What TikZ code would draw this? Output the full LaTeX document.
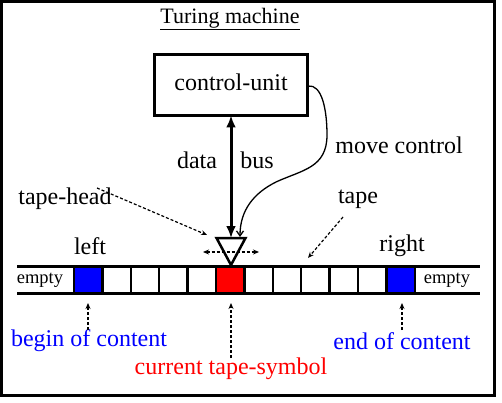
\documentclass[tikz,border=0pt]{standalone}
\usepackage{fontspec}
\setmainfont{Liberation Serif}
\usetikzlibrary{arrows.meta}
\definecolor{pblue}{RGB}{0,0,255}
\definecolor{pred}{RGB}{255,0,0}
\begin{document}
\begin{tikzpicture}[x=1pt,y=-1pt,
  lbl/.style={font=\fontsize{24}{28}\selectfont, inner sep=0pt},
  small/.style={font=\fontsize{18.5}{22}\selectfont, inner sep=0pt},
  cell/.style={draw, line width=2.5pt, minimum width=28.4pt, minimum height=26pt, inner sep=0pt, outer sep=0pt, anchor=west},
  dasharrow/.style={line width=1.2pt, dash pattern=on 3pt off 2pt, -{Stealth[length=6pt,width=5pt]}},
]
\useasboundingbox (0,0) rectangle (502,403);
\draw[line width=3pt] (1.5,1.5) rectangle (494.5,395.5);
\node[font=\fontsize{22}{26}\selectfont, inner sep=0pt] (title) at (230,19) {\underline{Turing machine}};
\node[draw, line width=3pt, minimum width=153pt, minimum height=61pt, inner sep=0pt, outer sep=0pt, lbl] (cu) at (231,85) {\raisebox{5pt}{control-unit}};
% tape
\coordinate (tl1) at (17,266.5); \coordinate (tr1) at (480,266.5);
\coordinate (tl2) at (17,293.5); \coordinate (tr2) at (480,293.5);
\draw[line width=3pt] (tl1) -- (tr1);
\draw[line width=3pt] (tl2) -- (tr2);
\foreach \i in {0,...,11} {
  \node[cell] (c\i) at ({74+28.4*\i},280) {};
}
\node[cell, fill=pblue] at (c0.west) {};
\node[cell, fill=pblue] at (c11.west) {};
\node[cell, fill=pred] at (c5.west) {};
\node[small] (e1) at (40,280) {empty};
\node[small] (e2) at (447,280) {empty};
% head
\draw[line width=2.5pt, fill=white, line join=miter] (216.5,238) -- (245.5,238) -- (231,265) -- cycle;
\coordinate (headtop) at (231,238);
\coordinate (headtr) at (240,237);
\coordinate (hl) at (203,252);
\coordinate (hr) at (259,252);
\draw[line width=1.2pt, dash pattern=on 3pt off 2pt, {Stealth[length=6pt,width=5pt]}-{Stealth[length=6pt,width=5pt]}] (hl) -- (hr);
% data bus
\draw[line width=3pt, {Latex[length=12pt,width=10pt]}-{Latex[length=12pt,width=10pt]}] (cu.south) -- (headtop);
\node[lbl] (data) at (197,160) {data};
\node[lbl] (bus) at (257,160) {bus};
% move control
\coordinate (mc0) at (308,86);
\draw[line width=1.3pt, -{Straight Barb[length=5pt,width=7pt]}] (mc0) .. controls (322,84) and (327,110) .. (327,135)
  .. controls (327,168) and (302,170) .. (276,182)
  .. controls (254,193) and (240,210) .. (headtr);
\node[lbl] (mc) at (399,145) {move control};
% tape-head label
\node[lbl] (th) at (65,199) {tape-head};
\coordinate (tha) at (97,188);
\draw[dasharrow] (tha) -- (207,235);
% tape label
\node[lbl] (tp) at (358,199) {tape};
\coordinate (tpa) at (343,217);
\draw[dasharrow] (tpa) -- (308,258);
% left/right
\node[lbl] (left) at (90,246) {left};
\node[lbl] (right) at (402,246) {right};
% bottom labels
\node[lbl, text=pblue] (boc) at (89,341) {begin of content};
\node[lbl, text=pblue] (eoc) at (402,341) {end of content};
\node[lbl, text=pred] (cts) at (231,369) {current tape-symbol};
\draw[dasharrow] (88,330) -- (88,303);
\draw[dasharrow] (231,358) -- (231,303);
\draw[dasharrow] (402,330) -- (402,303);
\end{tikzpicture}
\end{document}
